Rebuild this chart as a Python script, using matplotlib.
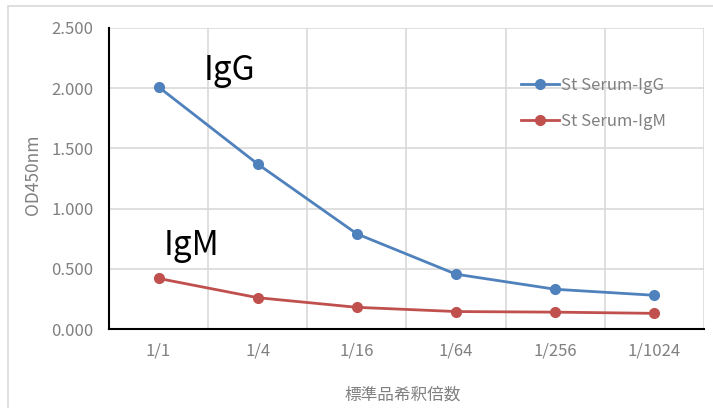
import matplotlib.pyplot as plt
from matplotlib.patches import Rectangle

plt.rcParams['font.family'] = ['Noto Sans CJK JP', 'DejaVu Sans']

dilutions = ['1/1', '1/4', '1/16', '1/64', '1/256', '1/1024']
igg = [2.01, 1.37, 0.79, 0.455, 0.33, 0.28]
igm = [0.42, 0.26, 0.18, 0.145, 0.14, 0.13]

BLUE = '#4F81BD'
RED = '#C0504D'
GRAY = '#808080'

fig = plt.figure(figsize=(7.13, 4.08), dpi=100)
W, H = 713, 408
ax = fig.add_axes([109 / W, 1 - 329 / H, 595 / W, 301 / H])

# light frame round the chart
fig.patches.append(Rectangle((8 / W, -0.1), 1.2, 1 - 6 / H + 0.1,
                             transform=fig.transFigure, fill=False,
                             edgecolor='#D9D9D9', linewidth=1.2))

x = list(range(len(dilutions)))
ax.plot(x, igg, color=BLUE, linewidth=2, marker='o', markersize=7,
        label='St Serum-IgG', zorder=3)
ax.plot(x, igm, color=RED, linewidth=2, marker='o', markersize=7,
        label='St Serum-IgM', zorder=3)

ax.set_xlim(-0.5, 5.5)
ax.set_ylim(0, 2.5)
ax.set_yticks([0, 0.5, 1.0, 1.5, 2.0, 2.5])
ax.set_yticklabels(['%.3f' % v for v in ax.get_yticks()])
ax.set_xticks(x)
ax.set_xticklabels(dilutions)

# vertical grid between categories
for b in [0.5, 1.5, 2.5, 3.5, 4.5, 5.5]:
    ax.axvline(b, color='#D9D9D9', linewidth=1.2, zorder=0)
ax.grid(axis='y', color='#D9D9D9', linewidth=1.2, zorder=0)

for side in ['top', 'right']:
    ax.spines[side].set_visible(False)
ax.spines['left'].set_color('black')
ax.spines['bottom'].set_color('black')
ax.spines['left'].set_linewidth(1.5)
ax.spines['bottom'].set_linewidth(1.5)

ax.tick_params(length=0, labelsize=12, labelcolor=GRAY)
ax.tick_params(axis='y', pad=11)
ax.tick_params(axis='x', pad=10)

fig.text(33 / W, 1 - 175 / H, 'OD450nm', rotation=90, ha='center',
         va='center', fontsize=12.5, color=GRAY)
fig.text(403 / W, 1 - 395 / H, '標準品希釈倍数', ha='center', va='center',
         fontsize=12, color=GRAY)

ax.text(0.45, 2.0, 'IgG', fontsize=24, color='black', va='bottom')
ax.text(0.05, 0.55, 'IgM', fontsize=24, color='black', va='bottom')

leg = ax.legend(loc='upper left', bbox_to_anchor=(0.667, 0.888), frameon=False,
                fontsize=12, handlelength=2.3, handletextpad=0.1,
                labelspacing=1.15, labelcolor=GRAY)

fig.savefig('out.png', dpi=100)
